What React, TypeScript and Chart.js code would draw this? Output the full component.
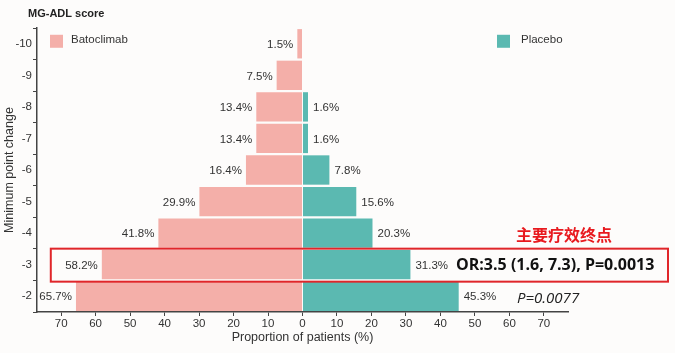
import React, { useEffect, useRef } from "react";
import { Chart, registerables } from "chart.js";

Chart.register(...registerables);

const categories = ["-10", "-9", "-8", "-7", "-6", "-5", "-4", "-3", "-2"];
const batoclimab = [1.5, 7.5, 13.4, 13.4, 16.4, 29.9, 41.8, 58.2, 65.7];
const placebo = [0, 0, 1.6, 1.6, 7.8, 15.6, 20.3, 31.3, 45.3];
const xTicks = [-70, -60, -50, -40, -30, -20, -10, 0, 10, 20, 30, 40, 50, 60, 70];
const seriesNames = ["Batoclimab", "Placebo"];
const titleText = "MG-ADL score";
const yTitle = "Minimum point change";
const xTitle = "Proportion of patients (%)";
const highlightCategory = "-3";
const highlightLabel = "主要疗效终点";
const orText = "OR:3.5 (1.6, 7.3), P=0.0013";
const pText = "P=0.0077";

const PINK = "#F4AFA9";
const TEAL = "#5BB9B1";
const SANS = "Arial, 'Liberation Sans', sans-serif";

export default function App() {
  const ref = useRef<HTMLCanvasElement | null>(null);

  useEffect(() => {
    document.body.style.margin = "0";
    const canvas = ref.current!;
    const overlay = {
      id: "overlay",
      afterDatasetsDraw(chart: any) {
        const ctx = chart.ctx;
        const xs = chart.scales.x;
        const ys = chart.scales.y;
        ctx.save();
        // value labels
        ctx.font = `11.5px ${SANS}`;
        ctx.fillStyle = "#333";
        ctx.textBaseline = "middle";
        categories.forEach((c, i) => {
          const y = ys.getPixelForValue(i);
          const b = batoclimab[i];
          if (b > 0) {
            ctx.textAlign = "right";
            ctx.fillText(`${b}%`, xs.getPixelForValue(-b) - 4, y + 1);
          }
          const p = placebo[i];
          if (p > 0) {
            ctx.textAlign = "left";
            ctx.fillText(`${p}%`, xs.getPixelForValue(p) + 5, y + 1);
          }
        });
        // title
        ctx.font = `bold 11px ${SANS}`;
        ctx.fillStyle = "#222";
        ctx.textAlign = "left";
        ctx.fillText(titleText, 28, 14);
        // legend
        const legendY = ys.getPixelForValue(0) - 2;
        ctx.font = `11.5px ${SANS}`;
        ctx.fillStyle = PINK;
        ctx.fillRect(50, legendY - 7, 13, 13);
        ctx.fillStyle = "#333";
        ctx.fillText(seriesNames[0], 71, legendY - 2);
        ctx.fillStyle = TEAL;
        ctx.fillRect(497, legendY - 7, 13, 13);
        ctx.fillStyle = "#333";
        ctx.fillText(seriesNames[1], 521, legendY - 2);
        // highlight box
        const hi = categories.indexOf(highlightCategory);
        const cy = ys.getPixelForValue(hi);
        const bx = xs.getPixelForValue(-73);
        ctx.strokeStyle = "#E0262A";
        ctx.lineWidth = 2;
        ctx.strokeRect(bx, cy - 16, 668 - bx, 33);
        ctx.font = `bold 16px 'Noto Sans CJK SC', sans-serif`;
        ctx.fillStyle = "#E8191E";
        ctx.textAlign = "left";
        ctx.fillText(highlightLabel, 516, cy - 30);
        ctx.font = `bold 16px 'Open Sans', sans-serif`;
        ctx.fillStyle = "#111";
        ctx.fillText(orText, 456, cy + 1);
        const cy2 = ys.getPixelForValue(hi + 1);
        ctx.font = `italic 15px 'Open Sans', sans-serif`;
        ctx.fillStyle = "#222";
        ctx.fillText(pText, 517, cy2 + 3);
        ctx.restore();
      },
    };

    const chart = new Chart(canvas, {
      type: "bar",
      data: {
        labels: categories,
        datasets: [
          {
            label: seriesNames[0],
            data: batoclimab.map((v) => -v),
            backgroundColor: PINK,
            barPercentage: 0.93,
            categoryPercentage: 1,
          },
          {
            label: seriesNames[1],
            data: placebo,
            backgroundColor: TEAL,
            barPercentage: 0.93,
            categoryPercentage: 1,
          },
        ],
      },
      options: {
        indexAxis: "y",
        responsive: false,
        animation: false,
        layout: { padding: { top: 28, right: 107, left: 2, bottom: 8 } },
        plugins: {
          legend: { display: false },
          tooltip: { enabled: false },
          title: { display: false },
        },
        scales: {
          x: {
            stacked: true,
            min: -77,
            max: 77,
            afterBuildTicks: (s: any) => {
              s.ticks = xTicks.map((v) => ({ value: v }));
            },
            afterFit: (s: any) => {
              s.height = 33;
            },
            ticks: {
              color: "#333",
              font: { size: 11.5, family: SANS },
              padding: 1,
              callback: (v: any) => `${Math.abs(Number(v))}`,
            },
            grid: {
              drawOnChartArea: false,
              drawTicks: true,
              tickLength: 4,
              color: "#444",
            },
            border: { color: "#444", width: 1.5 },
            title: {
              display: true,
              text: xTitle,
              color: "#333",
              font: { size: 12.5, family: SANS },
              padding: { top: 0, bottom: 0 },
            },
          },
          y: {
            stacked: true,
            afterFit: (s: any) => {
              s.width = 35;
            },
            ticks: {
              color: "#333",
              font: { size: 11.5, family: SANS },
              padding: 1,
            },
            grid: {
              drawOnChartArea: false,
              drawTicks: true,
              tickLength: 4,
              color: "#444",
            },
            border: { color: "#444", width: 1.5 },
            title: {
              display: true,
              text: yTitle,
              color: "#333",
              font: { size: 12.5, family: SANS },
              padding: { top: 0, bottom: 1 },
            },
          },
        },
      },
      plugins: [overlay],
    });
    return () => chart.destroy();
  }, []);

  return (
    <div style={{ width: 675, height: 353, background: "#fdfcfb" }}>
      <canvas ref={ref} width={675} height={353} />
    </div>
  );
}
